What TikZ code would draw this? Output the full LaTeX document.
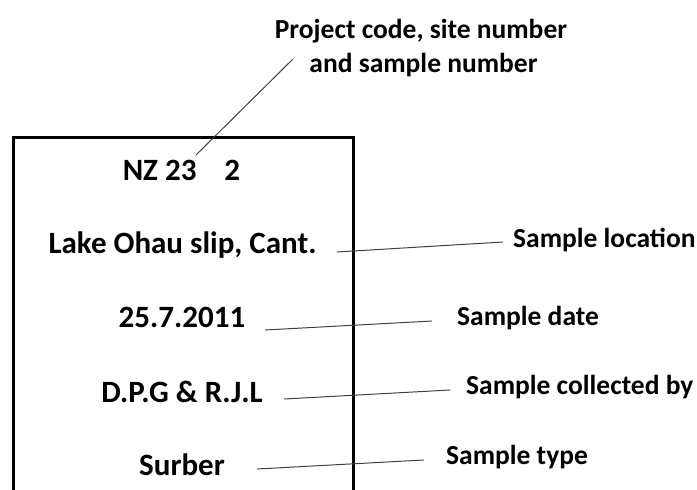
\documentclass[tikz,border=0pt]{standalone}
\usepackage{fontspec}
\setmainfont{Carlito}
\usetikzlibrary{positioning}
\tikzset{cardtext/.style={font=\bfseries\fontsize{31}{36}\selectfont, inner sep=0pt, anchor=base},
  tagtext/.style={font=\bfseries\fontsize{27.5}{33}\selectfont, anchor=west, inner sep=0pt},
  leader/.style={draw=black!75, line width=1pt}}

\begin{document}
\begin{tikzpicture}[x=1pt, y=-1pt]
      \useasboundingbox (0,0) rectangle (697,490);
      % the card, open at the bottom
      \draw [line width=3pt] (13,490) -- (13,137) -- (353,137) -- (353,490);
      % what is written on the card
      \node [cardtext] (code) at (181.5,180) {NZ 23\hspace{28pt}2};
      \node [cardtext] (place) at (182.5,253) {Lake Ohau slip, Cant.};
      \node [cardtext] (date) at (182,327) {25.7.2011};
      \node [cardtext] (who) at (182,402) {D.P.G \& R.J.L};
      \node [cardtext] (kind) at (182,475) {Surber};
      % the tags
      \node [tagtext, anchor=base] (codetag) at (421,38) {Project code, site number};
      \node [tagtext, anchor=base] (codetag2) at (423.5,72) {and sample number};
      \node [tagtext] (placetag) at (513,240) {Sample location};
      \node [tagtext] (datetag) at (457,318) {Sample date};
      \node [tagtext] (whotag) at (466,387) {Sample collected by};
      \node [tagtext] (kindtag) at (446,457) {Sample type};
      % leader lines
      \coordinate (codeend) at (196,155);
      \coordinate (codetip) at (293,59);
      \coordinate (placeend) at (337,252);
      \coordinate (placetip) at (503,242);
      \coordinate (dateend) at (265,330);
      \coordinate (datetip) at (432,321);
      \coordinate (whoend) at (284,399);
      \coordinate (whotip) at (450,390);
      \coordinate (kindend) at (257,469);
      \coordinate (kindtip) at (424,460);
      \draw [leader] (codeend) -- (codetip);
      \draw [leader] (placeend) -- (placetip);
      \draw [leader] (dateend) -- (datetip);
      \draw [leader] (whoend) -- (whotip);
      \draw [leader] (kindend) -- (kindtip);
    \end{tikzpicture}
\end{document}
